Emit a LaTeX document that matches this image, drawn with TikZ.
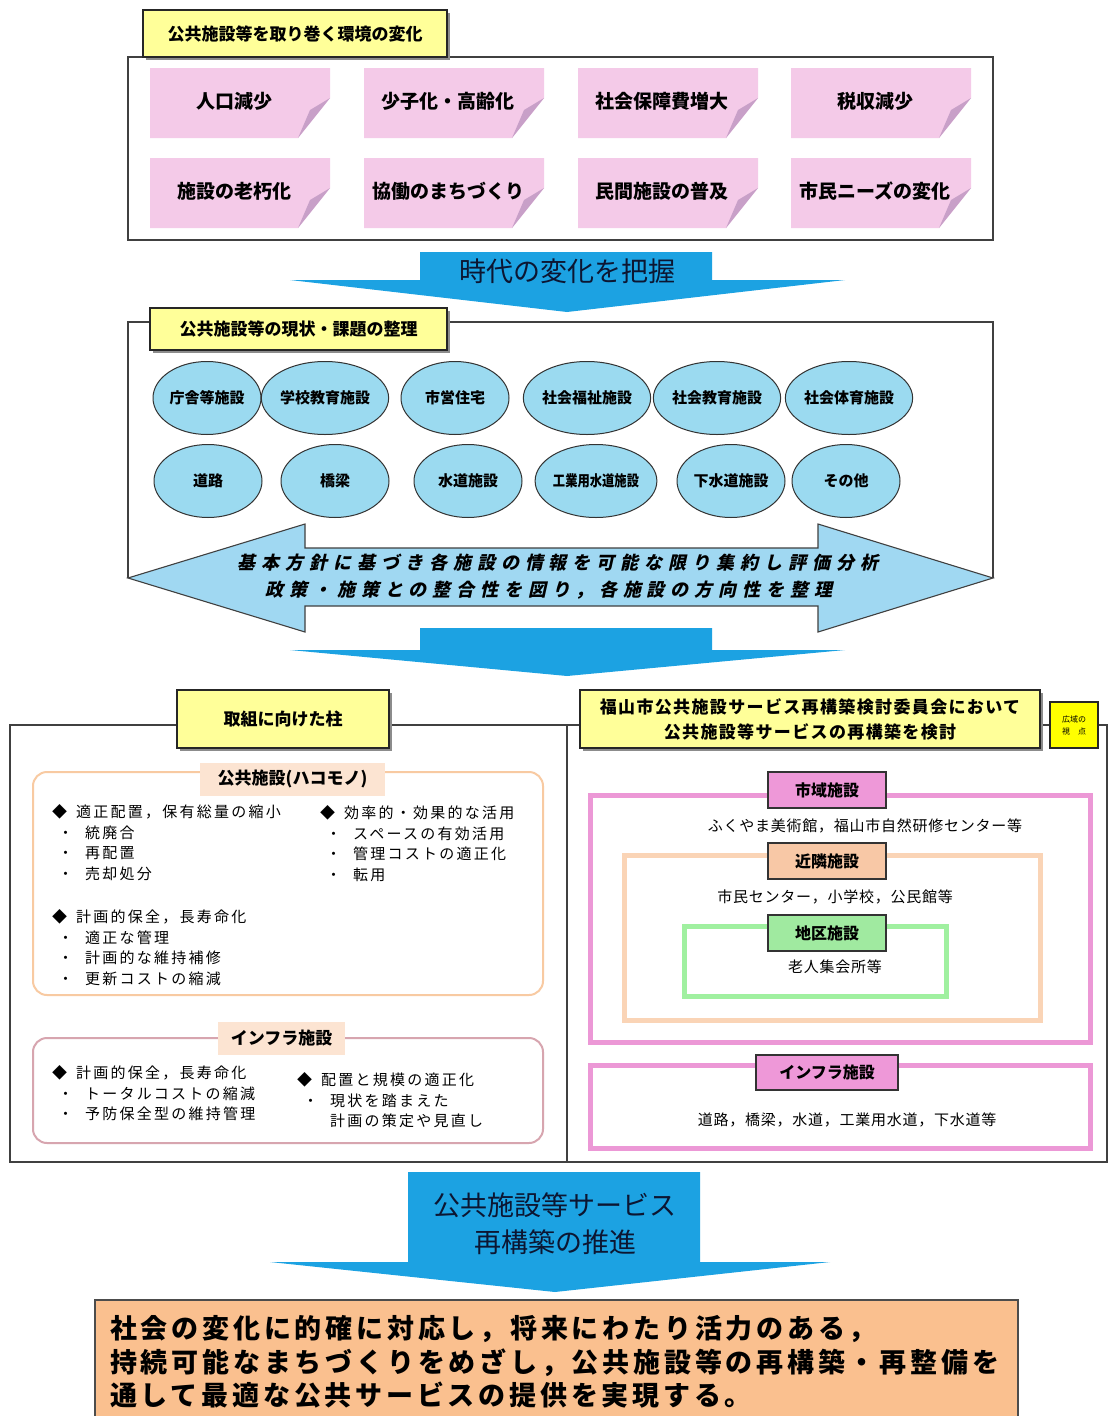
\documentclass[tikz,border=0pt]{standalone}
\usepackage{fontspec}
\usepackage{graphicx}
\setmainfont{Noto Sans CJK JP}
\newfontfamily\jpsl{Noto Sans CJK JP}[FakeSlant=0.22]
\usetikzlibrary{shapes.geometric}
\newcommand\fsz[2]{\fontsize{#1}{#2}\selectfont}
\newcommand\lsp[1]{\addfontfeatures{LetterSpace=#1}}
\definecolor{ttlyellow}{RGB}{255,255,153}
\definecolor{brightyellow}{RGB}{255,255,0}
\definecolor{stickypink}{RGB}{244,202,232}
\definecolor{stickyfold}{RGB}{200,160,200}
\definecolor{ellblue}{RGB}{155,218,240}
\definecolor{dblblue}{RGB}{160,216,242}
\definecolor{arrowblue}{RGB}{28,162,226}
\definecolor{navytext}{RGB}{12,22,50}
\definecolor{orangeline}{RGB}{248,202,162}
\definecolor{peachlabel}{RGB}{252,228,210}
\definecolor{mauveline}{RGB}{215,165,175}
\definecolor{ringpink}{RGB}{236,152,214}
\definecolor{labelpink}{RGB}{238,152,216}
\definecolor{ringpeach}{RGB}{250,212,182}
\definecolor{labelpeach}{RGB}{248,200,166}
\definecolor{ringgreen}{RGB}{160,240,160}
\definecolor{labelgreen}{RGB}{160,234,160}
\definecolor{finalorange}{RGB}{250,192,143}
\newcommand\stickynote[4]{%
  \fill[stickypink] (#1,#2) -- ({#1+180},#2) -- ({#1+180},{#2+30}) -- ({#1+148},{#2+70}) -- (#1,{#2+70}) -- cycle;
  \fill[stickyfold] ({#1+180},{#2+30}) -- ({#1+148},{#2+70}) -- ({#1+160},{#2+42}) -- cycle;
  \node[notetext] (#3) at ({#1+84},{#2+33}) {#4};
}
\begin{document}
\begin{tikzpicture}[x=1pt,y=-1pt,
  bigbox/.style={draw=black!75,line width=1.3pt,fill=white,inner sep=0pt},
  ytitle/.style={draw=black!85,line width=1.3pt,fill=ttlyellow,inner sep=0pt,font=\fsz{17}{25}\bfseries,align=center},
  notetext/.style={inner sep=0pt,font=\fsz{19}{22}\bfseries},
  ell/.style={ellipse,draw=black!80,line width=1pt,fill=ellblue,minimum width=108pt,minimum height=73pt,inner sep=0pt,font=\fsz{15}{18}\bfseries},
  bluearrow/.style={fill=arrowblue},
  arrowtext/.style={inner sep=0pt,text=navytext,font=\fsz{27}{37}},
  listtxt/.style={inner sep=0pt,align=left,anchor=north west,font=\fsz{15}{20.5}\lsp{15}},
  roundbox/.style={rounded corners=14pt,line width=2pt,fill=white,inner sep=0pt},
  sublabel/.style={inner sep=0pt,font=\fsz{17}{20}\bfseries},
  ringbox/.style={line width=5pt,inner sep=0pt},
  ringlabel/.style={draw=black!80,line width=1.2pt,inner sep=0pt,minimum width=118pt,minimum height=36pt,font=\fsz{16}{20}\bfseries},
  desc/.style={inner sep=0pt,font=\fsz{15}{18}\lsp{5}},
]
\useasboundingbox (0,0) rectangle (1108,1416);
\fill[white] (0,0) rectangle (1108,1416);

% ---------- section 1 ----------
\node[bigbox,minimum width=865pt,minimum height=183pt] (envbox) at (560.5,148.5) {};
\fill[black!45] (146,13) rectangle (450,60);
\node[ytitle,minimum width=304pt,minimum height=47pt] (t1) at (295,33.5) {公共施設等を取り巻く環境の変化};
\stickynote{150}{68}{n1}{人口減少}
\stickynote{364}{68}{n2}{少子化・高齢化}
\stickynote{578}{68}{n3}{社会保障費増大}
\stickynote{791}{68}{n4}{税収減少}
\stickynote{150}{158}{n5}{施設の老朽化}
\stickynote{364}{158}{n6}{協働のまちづくり}
\stickynote{578}{158}{n7}{民間施設の普及}
\stickynote{791}{158}{n8}{市民ニーズの変化}

\fill[bluearrow] (420,252) -- (712,252) -- (712,280) -- (845,280) -- (567,312) -- (290,280) -- (420,280) -- cycle;
\node[arrowtext] (a1) at (567,271) {時代の変化を把握};

% ---------- section 2 ----------
\draw[draw=black!75,line width=1.3pt] (128,578) -- (128,322) -- (993,322) -- (993,578);
\fill[black!45] (153,311) rectangle (450,353);
\node[ytitle,minimum width=297pt,minimum height=42pt] (t2) at (298.5,329) {公共施設等の現状・課題の整理};

\node[ell] (e1) at (207,398) {庁舎等施設};
\node[ell] (e2) at (325,398) {学校教育施設};
\node[ell] (e3) at (455,398) {市営住宅};
\node[ell] (e4) at (587,398) {社会福祉施設};
\node[ell] (e5) at (717,398) {社会教育施設};
\node[ell] (e6) at (849,398) {社会体育施設};
\node[ell] (e7) at (208,481) {道路};
\node[ell] (e8) at (335,481) {橋梁};
\node[ell] (e9) at (468,481) {水道施設};
\node[ell] (e10) at (596,481) {\scalebox{0.82}[1]{工業用水道施設}};
\node[ell] (e11) at (731,481) {下水道施設};
\node[ell] (e12) at (846,481) {その他};

\filldraw[fill=dblblue,draw=black!75,line width=1.1pt]
  (128,578) -- (305,524) -- (305,548) -- (818,548) -- (818,524) -- (993,578)
  -- (818,632) -- (818,606) -- (305,606) -- (305,632) -- cycle;
\node[inner sep=0pt,font=\jpsl\fsz{18}{27}\bfseries\lsp{33}] (dbl1) at (558,563) {基本方針に基づき各施設の情報を可能な限り集約し評価分析};
\node[inner sep=0pt,font=\jpsl\fsz{18}{27}\bfseries\lsp{33}] (dbl2) at (549,590) {政策・施策との整合性を図り，各施設の方向性を整理};

\fill[bluearrow] (420,628) -- (712,628) -- (712,650) -- (845,650) -- (567,676) -- (290,650) -- (420,650) -- cycle;

% ---------- section 3 left ----------
\node[bigbox,minimum width=557pt,minimum height=437pt] (leftpanel) at (288.5,943.5) {};
\node[bigbox,minimum width=540pt,minimum height=437pt] (rightpanel) at (837,943.5) {};
\fill[black!45] (180,693) rectangle (392,751);
\node[ytitle,minimum width=212pt,minimum height=58pt] (t3) at (283,719) {取組に向けた柱};
\fill[black!45] (583,693) rectangle (1043,751);
\node[ytitle,minimum width=460pt,minimum height=58pt,font=\fsz{17}{25}\bfseries\lsp{8}] (t4) at (810,719) {福山市公共施設サービス再構築検討委員会において\\公共施設等サービスの再構築を検討};
\node[draw=black!85,line width=1.2pt,fill=brightyellow,minimum width=48pt,minimum height=46pt,inner sep=0pt,align=center,font=\fsz{8}{12}] (t5) at (1074,725) {広域の\\視\quad 点};

\node[roundbox,draw=orangeline,minimum width=510pt,minimum height=223pt] (hakobox) at (288,883.5) {};
\node[sublabel,fill=peachlabel,minimum width=185pt,minimum height=33pt] (hakolbl) at (292.5,779) {公共施設(ハコモノ)};
\node[listtxt] (g1) at (52,804.5) {◆\hspace{9pt}適正配置，保有総量の縮小\\\hspace{6pt}・\hspace{12pt}統廃合\\\hspace{6pt}・\hspace{12pt}再配置\\\hspace{6pt}・\hspace{12pt}売却処分};
\node[listtxt] (g2) at (52,909.5) {◆\hspace{9pt}計画的保全，長寿命化\\\hspace{6pt}・\hspace{12pt}適正な管理\\\hspace{6pt}・\hspace{12pt}計画的な維持補修\\\hspace{6pt}・\hspace{12pt}更新コストの縮減};
\node[listtxt] (g3) at (320,805.5) {◆\hspace{9pt}効率的・効果的な活用\\\hspace{6pt}・\hspace{12pt}スペースの有効活用\\\hspace{6pt}・\hspace{12pt}管理コストの適正化\\\hspace{6pt}・\hspace{12pt}転用};

\node[roundbox,draw=mauveline,minimum width=510pt,minimum height=105pt] (infrabox) at (288,1090.5) {};
\node[sublabel,fill=peachlabel,minimum width=127pt,minimum height=33pt] (infralbl) at (281.5,1038.5) {インフラ施設};
\node[listtxt] (g4) at (52,1065.5) {◆\hspace{9pt}計画的保全，長寿命化\\\hspace{6pt}・\hspace{12pt}トータルコストの縮減\\\hspace{6pt}・\hspace{12pt}予防保全型の維持管理};
\node[listtxt] (g5) at (297,1072.5) {◆\hspace{9pt}配置と規模の適正化\\\hspace{6pt}・\hspace{12pt}現状を踏まえた\\\hspace{33pt}計画の策定や見直し};

% ---------- section 3 right ----------
\node[ringbox,draw=ringpink,minimum width=500pt,minimum height=247pt] (cityring) at (840,918.5) {};
\node[ringlabel,fill=labelpink] (citylbl) at (827,790) {市域施設};
\node[desc] (citydesc) at (865,826) {ふくやま美術館，福山市自然研修センター等};
\node[ringbox,draw=ringpeach,minimum width=416pt,minimum height=165pt] (nearring) at (832,937.5) {};
\node[ringlabel,fill=labelpeach] (nearlbl) at (827,861) {近隣施設};
\node[desc] (neardesc) at (835,897) {市民センター，小学校，公民館等};
\node[ringbox,draw=ringgreen,minimum width=262pt,minimum height=70pt] (distring) at (815,961) {};
\node[ringlabel,fill=labelgreen] (distlbl) at (827,933) {地区施設};
\node[desc] (distdesc) at (835,967) {老人集会所等};
\node[ringbox,draw=ringpink,minimum width=500pt,minimum height=83pt] (infraring) at (840,1106.5) {};
\node[ringlabel,fill=labelpink,minimum width=142pt,minimum height=35pt] (infralbl2) at (827,1072.5) {インフラ施設};
\node[desc] (infradesc) at (847,1120) {道路，橋梁，水道，工業用水道，下水道等};

% ---------- bottom ----------
\fill[bluearrow] (408,1172) -- (700,1172) -- (700,1262) -- (830,1262) -- (555,1292) -- (270,1262) -- (408,1262) -- cycle;
\node[arrowtext,align=center] (a3) at (555,1224) {公共施設等サービス\\再構築の推進};

\node[draw=black!70,line width=1.2pt,fill=finalorange,minimum width=923pt,minimum height=130pt,inner sep=0pt] (goalbox) at (556.5,1365) {};
\node[inner sep=0pt,align=left,anchor=west,font=\fsz{27}{33.5}\bfseries\lsp{14}] (goal) at (110,1362) {社会の変化に的確に対応し，将来にわたり活力のある，\\持続可能なまちづくりをめざし，公共施設等の再構築・再整備を\\通して最適な公共サービスの提供を実現する。};
\end{tikzpicture}
\end{document}
